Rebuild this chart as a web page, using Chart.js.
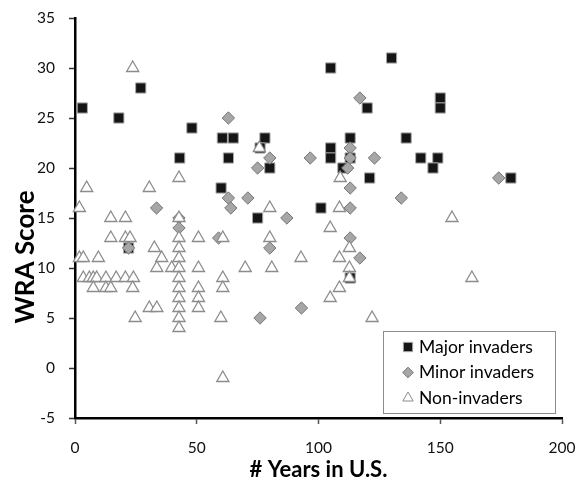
<!DOCTYPE html>
<html>
<head>
<meta charset="utf-8">
<script src="https://cdn.jsdelivr.net/npm/chart.js@4.4.0/dist/chart.umd.min.js"></script>
<style>
html,body{margin:0;padding:0;background:#fff;}
#wrap{width:583px;height:495px;position:relative;}
</style>
</head>
<body>
<div id="wrap"><canvas id="c" width="583" height="495"></canvas></div>
<script>
// ---- data ----
const seriesNames = ["Major invaders", "Minor invaders", "Non-invaders"];

const majorX = [3, 18, 27, 43, 48, 60.5, 65, 63, 60, 75, 78, 76, 80, 105, 130, 120, 150, 150, 113, 105, 105, 113, 110, 136, 142, 149, 147, 121, 179, 101, 113, 22];
const majorY = [26, 25, 28, 21, 24, 23, 23, 21, 18, 15, 23, 22, 20, 30, 31, 26, 27, 26, 23, 22, 21, 21, 20, 23, 21, 21, 20, 19, 19, 16, 9, 12];

const minorX = [63, 63, 64, 71, 33.5, 42.7, 42.7, 80, 75, 96.6, 113, 113, 112, 123, 117, 174, 113, 134, 113, 87, 80, 113, 117, 93, 76, 59, 22];
const minorY = [25, 17, 16, 17, 16, 15, 14, 21, 20, 21, 22, 21, 20, 21, 27, 19, 18, 17, 16, 15, 12, 13, 11, 6, 5, 13, 12];

const nonX = [23.7, 75.7, 108.9, 42.7, 4.8, 30.5, 1.8, 80, 108.6, 14.7, 20.7, 42.7, 154.8, 104.8,
  14.7, 20.7, 22.6, 42.7, 50.7, 60.7, 80, 32.6, 42.7, 112.7,
  1.8, 3.4, 9.6, 35.6, 42.7, 92.8, 108.6,
  33.6, 39.7, 42.7, 50.7, 69.9, 80.8, 112.7,
  3.4, 5.9, 7.5, 8.9, 12.7, 16.9, 20.7, 24, 42.7, 60.7, 112.7, 163,
  7.5, 12.7, 14.7, 23.7, 42.7, 50.7, 60.7, 108.6,
  42.7, 50.7, 104.8,
  30.5, 33.6, 42.7, 50.7,
  24.7, 42.7, 59.9, 122,
  42.7, 60.7];
const nonY = [30, 22, 19, 19, 18, 18, 16, 16, 16, 15, 15, 15, 15, 14,
  13, 13, 13, 13, 13, 13, 13, 12, 12, 12,
  11, 11, 11, 11, 11, 11, 11,
  10, 10, 10, 10, 10, 10, 10,
  9, 9, 9, 9, 9, 9, 9, 9, 9, 9, 9, 9,
  8, 8, 8, 8, 8, 8, 8, 8,
  7, 7, 7,
  6, 6, 6, 6,
  5, 5, 5, 5,
  4, -1];

const xTicks = [0, 50, 100, 150, 200];
const yTicks = [-5, 0, 5, 10, 15, 20, 25, 30, 35];
const xTitle = "# Years in U.S.";
const yTitle = "WRA Score";

const toPts = (xs, ys) => xs.map((x, i) => ({x: x, y: ys[i]}));

const styles = [
  {pointStyle: 'rect', radius: 7.2, bg: '#151515', border: '#a8a8a8', bw: 1, order: 3},
  {pointStyle: 'rectRot', radius: 6.2, bg: '#a6a6a6', border: '#767676', bw: 1, order: 2},
  {pointStyle: 'triangle', radius: 7, bg: '#ffffff', border: '#8c8c8c', bw: 1.3, order: 1}
];
const seriesData = [toPts(majorX, majorY), toPts(minorX, minorY), toPts(nonX, nonY)];

const datasets = seriesNames.map((name, i) => ({
  label: name,
  data: seriesData[i],
  pointStyle: styles[i].pointStyle,
  pointRadius: styles[i].radius,
  pointHoverRadius: styles[i].radius,
  backgroundColor: styles[i].bg,
  borderColor: styles[i].border,
  pointBorderWidth: styles[i].bw,
  borderWidth: styles[i].bw,
  order: styles[i].order,
  clip: false
}));

const FONT = "Lato, 'Open Sans', 'DejaVu Sans', sans-serif";

function drawMarker(ctx, style, x, y, r) {
  ctx.beginPath();
  if (style === 'rect') {
    const s = r * Math.SQRT1_2;
    ctx.rect(x - s, y - s, 2 * s, 2 * s);
  } else if (style === 'rectRot') {
    ctx.moveTo(x - r, y); ctx.lineTo(x, y - r); ctx.lineTo(x + r, y); ctx.lineTo(x, y + r);
    ctx.closePath();
  } else {
    const a = 2 * Math.PI / 3;
    ctx.moveTo(x, y - r);
    ctx.lineTo(x + Math.sin(a) * r, y - Math.cos(a) * r);
    ctx.lineTo(x + Math.sin(2 * a) * r, y - Math.cos(2 * a) * r);
    ctx.closePath();
  }
  ctx.fill();
  ctx.stroke();
}

const overlay = {
  id: 'overlay',
  afterDraw(chart) {
    const ctx = chart.ctx;
    // y axis title (centred like the original)
    ctx.save();
    ctx.translate(26, 257);
    ctx.rotate(-Math.PI / 2);
    ctx.font = "bold 26px " + FONT;
    ctx.fillStyle = '#000';
    ctx.textAlign = 'center';
    ctx.textBaseline = 'middle';
    ctx.fillText(yTitle, 0, 0);
    ctx.restore();

    // legend box
    const bx = 383.5, by = 331.5, bw = 172, bh = 82;
    ctx.save();
    ctx.fillStyle = '#fff';
    ctx.fillRect(bx, by, bw, bh);
    ctx.strokeStyle = '#8c8c8c';
    ctx.lineWidth = 1;
    ctx.strokeRect(bx, by, bw, bh);
    const rowsY = [347, 372.5, 398];
    const legR = [6.6, 5.3, 6];
    ctx.font = "17.5px " + FONT;
    ctx.textBaseline = 'middle';
    ctx.textAlign = 'left';
    seriesNames.forEach((name, i) => {
      ctx.fillStyle = styles[i].bg;
      ctx.strokeStyle = styles[i].border;
      ctx.lineWidth = 1;
      drawMarker(ctx, styles[i].pointStyle, 408, rowsY[i], legR[i]);
      ctx.fillStyle = '#000';
      ctx.fillText(name, 419, rowsY[i]);
    });
    ctx.restore();
  }
};

new Chart(document.getElementById('c'), {
  type: 'scatter',
  data: {datasets: datasets},
  options: {
    responsive: false,
    devicePixelRatio: 1,
    animation: false,
    events: [],
    layout: {padding: {top: 18, right: 21, left: 0, bottom: 0}},
    plugins: {legend: {display: false}, tooltip: {enabled: false}},
    scales: {
      x: {
        type: 'linear',
        min: xTicks[0],
        max: xTicks[xTicks.length - 1],
        afterBuildTicks: (s) => { s.ticks = xTicks.map(v => ({value: v})); },
        afterFit: (s) => { s.height = 77; s.paddingLeft = 0; s.paddingRight = 0; },
        border: {display: true, color: '#000', width: 2.5},
        grid: {display: true, drawOnChartArea: false, drawTicks: true, tickLength: 6, tickColor: '#555', tickWidth: 1.5},
        ticks: {font: {size: 15.5, family: FONT}, color: '#111', padding: 15, maxRotation: 0},
        title: {display: true, text: xTitle, font: {size: 22, weight: 'bold', family: FONT}, color: '#000', padding: {top: 0, bottom: 12}}
      },
      y: {
        type: 'linear',
        min: yTicks[0],
        max: yTicks[yTicks.length - 1],
        afterBuildTicks: (s) => { s.ticks = yTicks.map(v => ({value: v})); },
        afterFit: (s) => { s.width = 75; s.paddingTop = 0; s.paddingBottom = 0; },
        border: {display: true, color: '#000', width: 2.5},
        grid: {display: true, drawOnChartArea: false, drawTicks: true, tickLength: 6, tickColor: '#333', tickWidth: 1.5},
        ticks: {font: {size: 15.5, family: FONT}, color: '#111', padding: 14}
      }
    }
  },
  plugins: [overlay]
});
</script>
</body>
</html>
